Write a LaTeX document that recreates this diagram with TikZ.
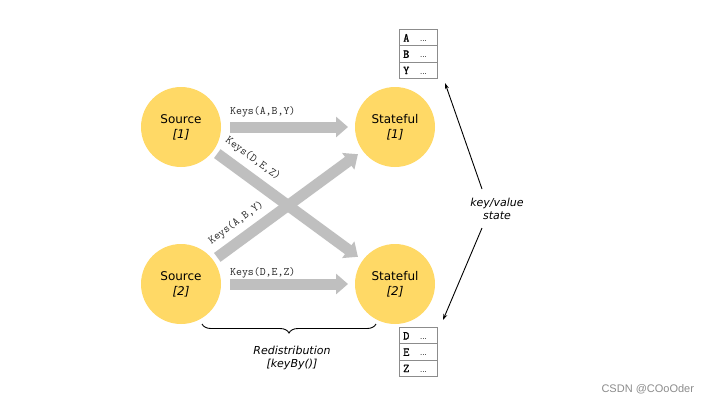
\documentclass[tikz,border=0pt]{standalone}
\usepackage{fontspec}
\setmainfont{DejaVu Sans}
\newfontfamily\wmfont{Liberation Sans}
\newfontfamily\tabfont[FakeBold=1.5]{Latin Modern Mono}
\usetikzlibrary{arrows.meta,decorations.pathreplacing}
\definecolor{circfill}{HTML}{FFD966}
\definecolor{flowgray}{HTML}{BFBFBF}
\definecolor{cellgray}{HTML}{8C8C8C}
\tikzset{
  proc/.style={circle, fill=circfill, minimum size=80pt, inner sep=0pt, outer sep=0pt,
    align=center, font=\fontsize{12}{15}\selectfont},
  flow/.style={draw=flowgray, line width=11pt, -{Triangle[length=12pt,width=20pt]}},
  keylbl/.style={font=\ttfamily\fontsize{11.5}{12}\selectfont, text=black!85, inner sep=1pt},
  cell/.style={draw=cellgray, line width=0.8pt, minimum width=38pt, minimum height=16.3pt,
    inner sep=0pt, outer sep=0pt},
  celltxt/.style={font=\tabfont\fontsize{12}{13}\selectfont, inner sep=0pt, anchor=base west},
  dots/.style={font=\fontsize{7}{8}\selectfont, inner sep=0pt, anchor=base west},
  note/.style={align=center, font=\itshape\fontsize{11}{13}\selectfont, inner sep=1pt},
  thin arrow/.style={draw=black, line width=0.9pt, -{Stealth[length=6pt,width=4pt]}},
}
\begin{document}
\begin{tikzpicture}[x=1pt,y=1pt]
\useasboundingbox (0,0) rectangle (708,-402);
\fill[white] (0,0) rectangle (708,-402);

% processes
\node[proc] (s1) at (181,-127) {Source\\\textit{[1]}};
\node[proc] (s2) at (181,-284) {Source\\\textit{[2]}};
\node[proc] (t1) at (395,-127) {Stateful\\\textit{[1]}};
\node[proc] (t2) at (395,-284) {Stateful\\\textit{[2]}};

% flows
\draw[flow, shorten <=9pt, shorten >=7pt] (s1) -- (t1);
\draw[flow, shorten <=9pt, shorten >=7pt] (s2) -- (t2);
\draw[flow, shorten <=5pt, shorten >=6pt] (s1) --
  node[keylbl, sloped, above=5pt, pos=0.2] {Keys(D,E,Z)} (t2);
\draw[flow, shorten <=5pt, shorten >=6pt] (s2) --
  node[keylbl, sloped, above=5pt, pos=0.22] {Keys(A,B,Y)} (t1);

\node[keylbl, anchor=base west] (l1) at (229,-114) {Keys(A,B,Y)};
\node[keylbl, anchor=base west] (l2) at (229,-275) {Keys(D,E,Z)};

% state tables
\node[cell] (a1) at (418,-37.5) {};
\node[cell, anchor=north] (a2) at (a1.south) {};
\node[cell, anchor=north] (a3) at (a2.south) {};
\node[cell] (b1) at (418,-335.5) {};
\node[cell, anchor=north] (b2) at (b1.south) {};
\node[cell, anchor=north] (b3) at (b2.south) {};
\foreach \c/\t in {a1/A,a2/B,a3/Y,b1/D,b2/E,b3/Z}{
  \node[celltxt] at ([xshift=4pt,yshift=-4pt]\c.west) {\t};
  \node[dots] at ([xshift=21pt,yshift=-4pt]\c.west) {...};
}

% key/value state
\node[note] (kv) at (497,-209) {key/value\\state};
\coordinate (kvt) at (482,-189);
\coordinate (kvb) at (482,-228);
\coordinate (ta) at (445,-83);
\coordinate (tb) at (443,-320);
\draw[thin arrow] (kvt) -- (ta);
\draw[thin arrow] (kvb) -- (tb);

% redistribution brace
\coordinate (br) at (376,-324);
\coordinate (bl) at (202,-324);
\draw[line width=0.9pt, decorate, decoration={brace, amplitude=9pt}] (br) -- (bl);
\node[note] (rd) at (292,-358) {Redistribution\\{[keyBy()]}};

% watermark
\node[font=\wmfont\fontsize{11}{12}\selectfont, text=black!45, anchor=base west] (wm) at (598,-392) {CSDN @COoOder};
\end{tikzpicture}
\end{document}
